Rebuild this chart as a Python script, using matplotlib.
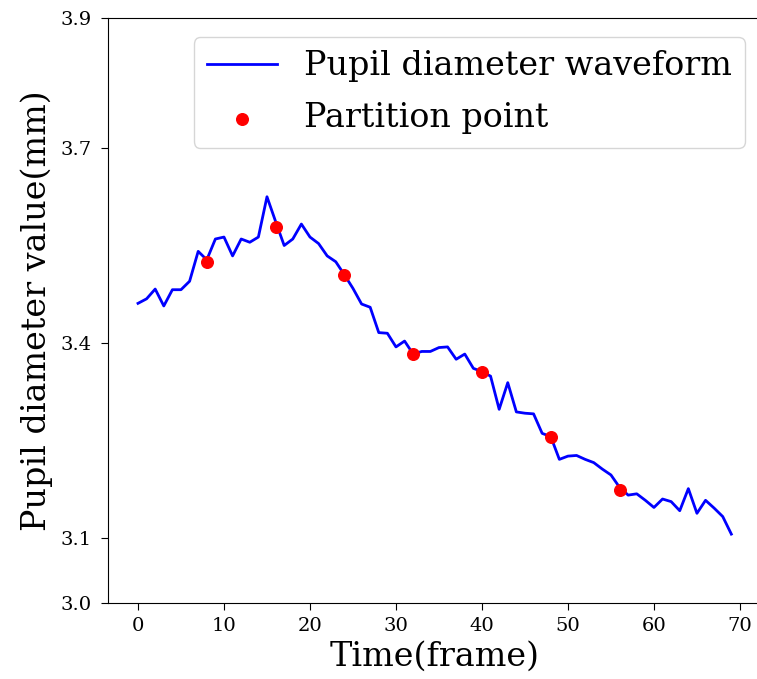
import matplotlib
matplotlib.use("Agg")
import matplotlib.pyplot as plt
import numpy as np

plt.rcParams["font.family"] = "DejaVu Serif"

# pupil diameter waveform, one value per frame (0..69)
pupil = [3.461, 3.468, 3.483, 3.457, 3.482, 3.482, 3.495, 3.541, 3.528, 3.560,
         3.563, 3.534, 3.560, 3.555, 3.563, 3.625, 3.587, 3.550, 3.560, 3.583,
         3.563, 3.553, 3.534, 3.525, 3.505, 3.484, 3.460, 3.455, 3.416, 3.415,
         3.394, 3.403, 3.383, 3.387, 3.387, 3.393, 3.394, 3.375, 3.383, 3.361,
         3.356, 3.349, 3.298, 3.339, 3.294, 3.292, 3.291, 3.261, 3.256, 3.221,
         3.226, 3.227, 3.221, 3.216, 3.206, 3.197, 3.178, 3.166, 3.168, 3.158,
         3.147, 3.160, 3.156, 3.142, 3.176, 3.138, 3.158, 3.146, 3.133, 3.106]
frames = np.arange(len(pupil))

# partition points
part_x = [8, 16, 24, 32, 40, 48, 56]
part_y = [3.525, 3.579, 3.505, 3.383, 3.356, 3.256, 3.174]

yticks = [3.0, 3.1, 3.4, 3.7, 3.9]
xticks = [0, 10, 20, 30, 40, 50, 60, 70]

fig = plt.figure(figsize=(7.57, 6.79), dpi=100)
ax = fig.add_axes([0.1431, 0.1119, 0.8622, 0.8616])

ax.plot(frames, pupil, color="blue", lw=2, label="Pupil diameter waveform")
ax.scatter(part_x, part_y, color="red", s=70, zorder=3, label="Partition point")

ax.set_xlim(-3.45, 72.45)
ax.set_ylim(3.0, 3.9)
ax.set_yticks(yticks)
ax.set_xticks(xticks)
ax.tick_params(labelsize=14, length=5)
ax.tick_params(axis="y", pad=7)
ax.tick_params(axis="x", pad=5)

ax.set_xlabel("Time(frame)", fontsize=24, labelpad=4)
ax.set_ylabel("Pupil diameter value(mm)", fontsize=24, labelpad=5)

ax.legend(loc="upper right", bbox_to_anchor=(0.9755, 0.9675), fontsize=24,
          handlelength=2.1, labelspacing=0.6, borderaxespad=0)

fig.savefig("out.png", dpi=100)
